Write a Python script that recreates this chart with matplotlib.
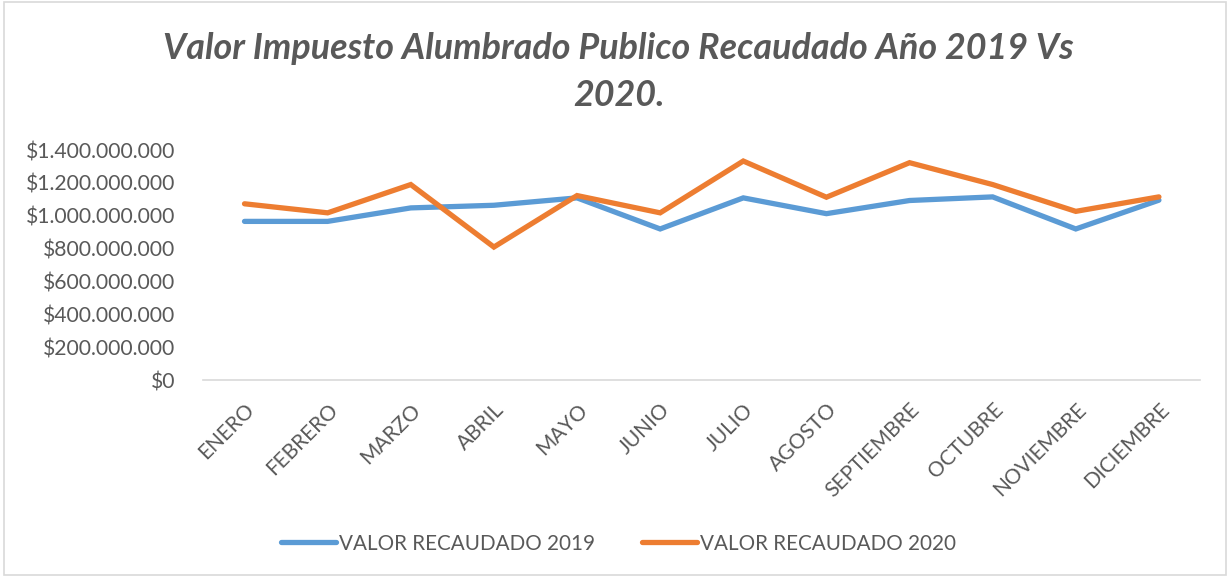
import matplotlib
matplotlib.use("Agg")
import matplotlib.pyplot as plt
from matplotlib.ticker import FuncFormatter
from matplotlib.patches import Rectangle

months = ["ENERO", "FEBRERO", "MARZO", "ABRIL", "MAYO", "JUNIO", "JULIO",
          "AGOSTO", "SEPTIEMBRE", "OCTUBRE", "NOVIEMBRE", "DICIEMBRE"]
valor_2019 = [966e6, 966e6, 1048e6, 1064e6, 1109e6, 920e6, 1109e6,
              1013e6, 1093e6, 1115e6, 920e6, 1095e6]
valor_2020 = [1073e6, 1018e6, 1190e6, 810e6, 1123e6, 1018e6, 1333e6,
              1113e6, 1323e6, 1190e6, 1027e6, 1115e6]
yticks = [0, 200e6, 400e6, 600e6, 800e6, 1000e6, 1200e6, 1400e6]
title = "Valor Impuesto Alumbrado Publico Recaudado Año 2019 Vs\n2020."
labels = ["VALOR RECAUDADO 2019", "VALOR RECAUDADO 2020"]

plt.rcParams['font.family'] = ['Lato', 'DejaVu Sans']
gray = "#595959"

fig = plt.figure(figsize=(12.3, 5.77), dpi=100)
fig.patches.append(Rectangle((0.003, 0.003), 0.994, 0.994, transform=fig.transFigure,
                             fill=False, edgecolor="#d9d9d9", linewidth=1.2))
ax = fig.add_axes([0.165, 0.341, 0.811, 0.399])

x = range(len(months))
ax.plot(x, valor_2019, color="#5B9BD5", linewidth=3.8, solid_capstyle="round",
        solid_joinstyle="miter", label=labels[0])
ax.plot(x, valor_2020, color="#ED7D31", linewidth=3.8, solid_capstyle="round",
        solid_joinstyle="miter", label=labels[1])

ax.set_xlim(-0.5, len(months) - 0.5)
ax.set_ylim(0, 1400e6)
ax.set_yticks(yticks)

def fmt(v, pos):
    if v == 0:
        return "$0"
    return "$" + f"{int(round(v)):,}".replace(",", ".")

ax.yaxis.set_major_formatter(FuncFormatter(fmt))
ax.set_xticks(list(x))
ax.set_xticklabels(months, rotation=45, ha="right", va="top",
                   rotation_mode="anchor", fontsize=15, color=gray)
ax.tick_params(axis="y", labelsize=15.2, labelcolor=gray, length=0, pad=20)
ax.tick_params(axis="x", length=0, pad=14)
for s in ["top", "right", "left"]:
    ax.spines[s].set_visible(False)
ax.spines["bottom"].set_color("#d9d9d9")
ax.spines["bottom"].set_linewidth(1.2)

fig.text(0.503, 0.875, title, ha="center", va="center", fontsize=25.8,
         fontweight="bold", fontstyle="italic", color=gray, linespacing=1.5)

leg = fig.legend(loc="center", bbox_to_anchor=(0.503, 0.058), ncol=2, frameon=False,
                 fontsize=14.9, handlelength=2.65, handletextpad=0.15, columnspacing=2.3)
for t in leg.get_texts():
    t.set_color(gray)

fig.savefig("out.png", dpi=100)
